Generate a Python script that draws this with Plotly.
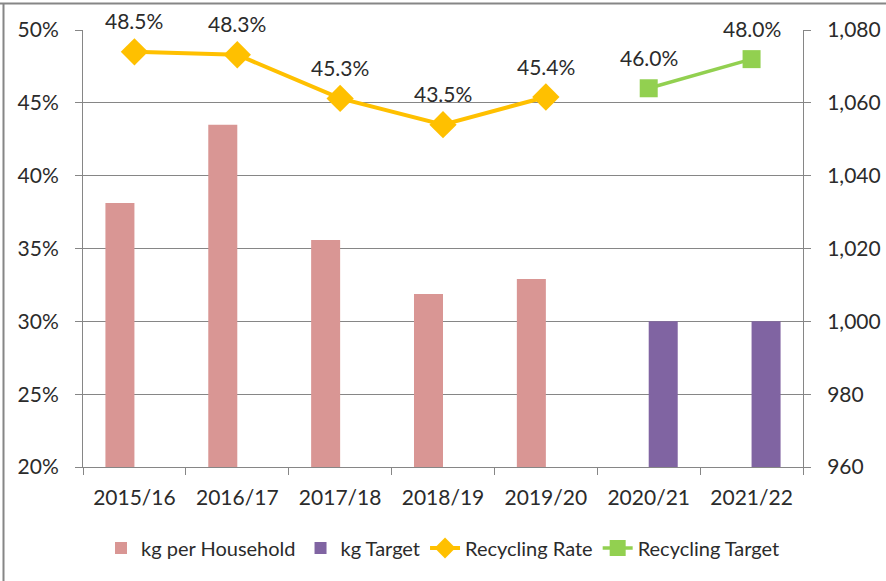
import plotly.graph_objects as go

categories = ["2015/16", "2016/17", "2017/18", "2018/19", "2019/20", "2020/21", "2021/22"]
kg_per_household = [1032.5, 1054, 1022.3, 1007.5, 1011.6, None, None]
kg_target = [None, None, None, None, None, 1000, 1000]
recycling_rate = [0.485, 0.483, 0.453, 0.435, 0.454, None, None]
recycling_target = [None, None, None, None, None, 0.460, 0.480]

W, H = 886, 581
ML, MR, MT, MB = 83, 83, 30, 114
PW, PH = W - ML - MR, H - MT - MB

FONT = "Lato, sans-serif"
FS = 21
LFS = 20
TXT = "#2b2b2b"
GRID = "#868686"

fig = go.Figure()
fig.add_trace(go.Bar(x=categories, y=kg_per_household, name="kg per Household",
                     marker=dict(color="#D99694", line=dict(width=0)), yaxis="y"))
fig.add_trace(go.Bar(x=categories, y=kg_target, name="kg Target",
                     marker=dict(color="#8064A2", line=dict(width=0)), yaxis="y"))
fig.add_trace(go.Scatter(x=categories, y=recycling_rate, name="Recycling Rate", yaxis="y2",
                         mode="lines+markers", line=dict(color="#FFC000", width=4),
                         marker=dict(symbol="diamond", size=21, color="#FFC000")))
fig.add_trace(go.Scatter(x=categories, y=recycling_target, name="Recycling Target", yaxis="y2",
                         mode="lines+markers", line=dict(color="#92D050", width=3.5),
                         marker=dict(symbol="square", size=18, color="#92D050")))

annotations = []
for series in (recycling_rate, recycling_target):
    for c, v in zip(categories, series):
        if v is None:
            continue
        annotations.append(dict(x=c, y=v, xref="x", yref="y2", text=f"{v*100:.1f}%",
                                showarrow=False, yshift=31,
                                font=dict(family=FONT, size=FS, color=TXT)))

def px2paper_x(px):
    return (px - ML) / PW

def px2paper_y(py):
    return (H - MB - py) / PH

shapes = [
    dict(type="line", xref="paper", yref="paper",
         x0=px2paper_x(-5), x1=px2paper_x(900), y0=px2paper_y(3.5), y1=px2paper_y(3.5),
         line=dict(color=GRID, width=2)),
    dict(type="line", xref="paper", yref="paper",
         x0=px2paper_x(3.5), x1=px2paper_x(3.5), y0=px2paper_y(3.5), y1=px2paper_y(600),
         line=dict(color=GRID, width=2)),
]

fig.update_layout(
    width=W, height=H,
    margin=dict(l=ML, r=MR, t=MT, b=MB, autoexpand=False),
    paper_bgcolor="white", plot_bgcolor="white",
    font=dict(family=FONT, size=FS, color=TXT),
    barmode="group", bargap=0.436, bargroupgap=0,
    showlegend=True,
    legend=dict(orientation="h", x=0.5, xanchor="center", y=px2paper_y(548), yanchor="middle",
                font=dict(family=FONT, size=LFS, color=TXT), itemwidth=30,
                traceorder="normal"),
    xaxis=dict(showline=True, linecolor=GRID, linewidth=1, ticks="outside", ticklen=7,
               tickcolor=GRID, tickson="boundaries", showgrid=False, ticklabelstandoff=12,
               tickfont=dict(family=FONT, size=FS, color=TXT)),
    yaxis=dict(side="right", range=[960, 1080], dtick=20, tickformat=",",
               showline=True, linecolor=GRID, ticks="outside", ticklen=7, tickcolor=GRID,
               showgrid=True, gridcolor=GRID, gridwidth=1, zeroline=False,
               ticklabelstandoff=12,
               tickfont=dict(family=FONT, size=FS, color=TXT)),
    yaxis2=dict(overlaying="y", side="left", range=[0.20, 0.50], dtick=0.05, tickformat=".0%",
                showline=True, linecolor=GRID, ticks="outside", ticklen=7, tickcolor=GRID,
                showgrid=False, zeroline=False, ticklabelstandoff=12,
                tickfont=dict(family=FONT, size=FS, color=TXT)),
    annotations=annotations,
    shapes=shapes,
)

fig.write_html("out.html")
